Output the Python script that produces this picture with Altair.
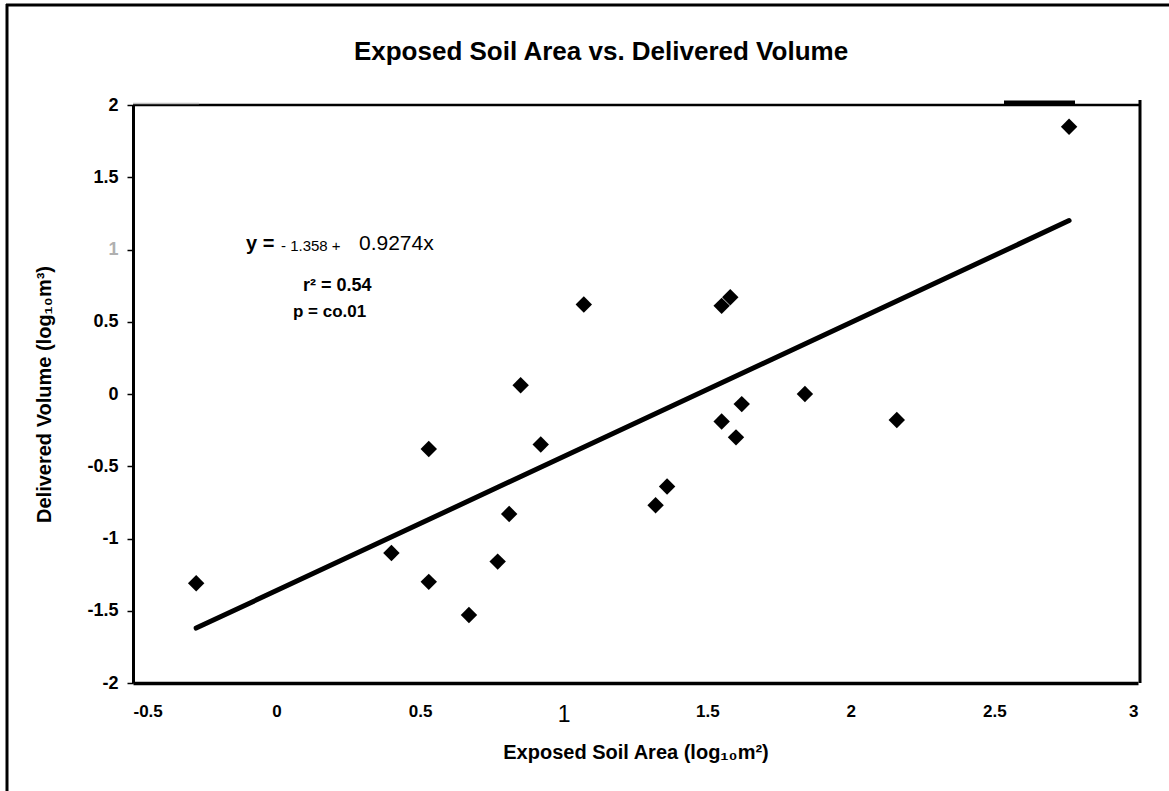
import altair as alt
import pandas as pd

# ---- data ----
soil_area = [-0.28, 0.40, 0.53, 0.53, 0.67, 0.77, 0.81, 0.85, 0.92, 1.07,
             1.55, 1.58, 1.32, 1.36, 1.55, 1.62, 1.60, 1.84, 2.16, 2.76]
delivered_volume = [-1.31, -1.10, -0.38, -1.30, -1.53, -1.16, -0.83, 0.06, -0.35, 0.62,
                    0.61, 0.67, -0.77, -0.64, -0.19, -0.07, -0.30, 0.00, -0.18, 1.85]
fit_x = [-0.28, 2.76]
fit_y = [-1.62, 1.20]
y_ticks = [-2, -1.5, -1, -0.5, 0, 0.5, 1, 1.5, 2]
x_ticks = [-0.5, 0, 0.5, 1, 1.5, 2, 2.5, 3]

title_text = "Exposed Soil Area vs. Delivered Volume"
x_title = "Exposed Soil Area (log\u2081\u2080m\u00b2)"
y_title = "Delivered Volume (log\u2081\u2080m\u00b3)"

pts = pd.DataFrame({"area": soil_area, "volume": delivered_volume})
fit = pd.DataFrame({"area": fit_x, "volume": fit_y})

FONT = "Liberation Sans"
W, H = 1005, 578

xs = alt.Scale(domain=[-0.5, 3], nice=False, zero=False)
ys = alt.Scale(domain=[-2, 2], nice=False, zero=False)

x_enc = alt.X("area:Q", scale=xs, title=x_title,
              axis=alt.Axis(values=x_ticks, labelExpr="'' + datum.value",
                            domainColor="black", domainWidth=3.5, ticks=False,
                            labelPadding=20, labelColor="black", labelFont=FONT,
                            labelFontSize={"expr": "datum.value == 1 ? 23 : 17"},
                            labelFontWeight={"expr": "datum.value == 1 ? 'normal' : 'bold'"},
                            titleFont=FONT, titleFontSize=20, titleFontWeight="bold",
                            titleColor="black", titleY=69, titleBaseline="middle",
                            grid=False))
y_enc = alt.Y("volume:Q", scale=ys, title=y_title,
              axis=alt.Axis(values=y_ticks, labelExpr="'' + datum.value",
                            domainColor="black", domainWidth=3, ticks=True,
                            tickColor="black", tickSize=6, tickWidth=1.5,
                            labelPadding=9, labelFont=FONT, labelFontSize=18,
                            labelFontWeight="bold",
                            labelColor={"expr": "datum.value == 1 ? '#b0b0b0' : 'black'"},
                            titleFont=FONT, titleFontSize=20, titleFontWeight="bold",
                            titleColor="black", titleX=-89, titleBaseline="middle",
                            grid=False))

points = alt.Chart(pts).mark_point(shape="diamond", filled=True, size=270,
                                   color="black", opacity=1).encode(x=x_enc, y=y_enc)

line = alt.Chart(fit).mark_line(color="black", strokeWidth=5, strokeCap="round").encode(
    x=alt.X("area:Q", scale=xs), y=alt.Y("volume:Q", scale=ys))

def txt(text, x, y, size, weight="normal", align="left"):
    return alt.Chart(pd.DataFrame({"t": [text]})).mark_text(
        font=FONT, fontSize=size, fontWeight=weight, align=align,
        baseline="middle", color="black").encode(
        text="t:N", x=alt.value(x), y=alt.value(y))

title = txt(title_text, 468, -53, 26, "bold", "center")
eq1 = txt("y =", 113, 139, 20, "bold")
eq2 = txt("-  1.358  +", 148, 141, 15)
eq3 = txt("0.9274x", 226, 139, 21)
r2 = txt("r\u00b2 = 0.54", 170, 181, 18, "bold")
pv = txt("p = co.01", 160, 207, 17, "bold")

def rule(x, x2, y, y2, color="black", width=2.5):
    return alt.Chart(pd.DataFrame({"a": [0]})).mark_rule(
        color=color, strokeWidth=width).encode(
        x=alt.value(x), x2=alt.value(x2), y=alt.value(y), y2=alt.value(y2))

frame = [
    rule(-126, -126, -101, 690, width=3),      # outer left frame
    rule(-127, 1040, -100, -100, width=3),     # outer top frame
    rule(0, W + 2, 0, 0, width=2.5),           # plot top border
    rule(W + 2, W + 2, -5, H, width=3),        # plot right border
    rule(0, 66, -1.5, -1.5, color="#bdbdbd", width=1.5),
    rule(871, 942, -2.5, -2.5, width=4),
]

chart = alt.layer(*frame, line, points, title, eq1, eq2, eq3, r2, pv).properties(
    width=W, height=H,
    autosize=alt.AutoSizeParams(type="none"),
    padding={"left": 133, "top": 105, "right": 31, "bottom": 108},
    background="white",
).configure_view(stroke=None)

chart.save("out.html", embed_options={"renderer": "svg", "actions": False})
